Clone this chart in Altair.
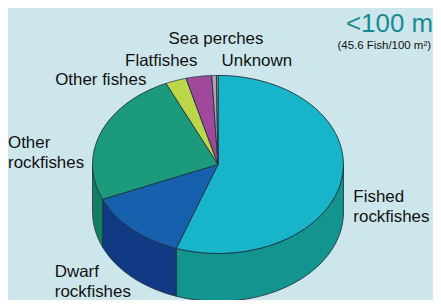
import altair as alt
import pandas as pd

# ---- data ----
categories = ["Fished rockfishes", "Dwarf rockfishes", "Other rockfishes",
              "Other fishes", "Flatfishes", "Sea perches", "Unknown"]
shares = [55.4, 13.2, 24.6, 2.7, 3.3, 0.6, 0.2]

# ---- styles ----
top_colors = ["#17b4ca", "#1760ad", "#1c9a7c", "#bcd64a", "#a2489c", "#aaa4b0", "#d8b8c8"]
side_colors = ["#13948f", "#103b84", "#147e62", "#98b03a", "#80387c", "#888290", "#b898a8"]
BG = "#cde6ec"
EDGE = "#1c3540"
LABEL_FONT = "Liberation Sans, Arial, sans-serif"

# ---- layout ----
W, H = 427, 292
CX, CY, R = 219 - 8, 164.5 - 8, 126.0   # pie centre / radius in chart pixels
TILT = 0.71
DEPTH = 0.381
N = 60

df = pd.DataFrame({"cat": categories, "share": shares, "idx": list(range(len(categories)))})

x_scale = alt.Scale(domain=[-CX / R, (W - CX) / R], nice=False, zero=False)
y_scale = alt.Scale(domain=[(CY - H) / R, CY / R], nice=False, zero=False)

base = (
    alt.Chart(df)
    .transform_window(cum="sum(share)", sort=[alt.SortField("idx")], frame=[None, 0])
    .transform_joinaggregate(total="sum(share)")
    .transform_calculate(t0="2*PI*(datum.cum - datum.share)/datum.total")
    .transform_calculate(t1="2*PI*datum.cum/datum.total")
)

top = (
    base.transform_calculate(pts=f"sequence(0, {N + 2})")
    .transform_flatten(["pts"])
    .transform_calculate(t=f"datum.t0 + (datum.t1 - datum.t0) * (datum.pts - 1) / {N}")
    .transform_calculate(px="datum.pts == 0 ? 0 : sin(datum.t)")
    .transform_calculate(py=f"datum.pts == 0 ? 0 : {TILT} * cos(datum.t)")
    .mark_line(interpolate="linear-closed", stroke=EDGE, strokeWidth=0.9, strokeJoin="round")
    .encode(
        x=alt.X("px:Q", scale=x_scale, axis=None),
        y=alt.Y("py:Q", scale=y_scale, axis=None),
        fill=alt.Fill("cat:N", scale=alt.Scale(domain=categories, range=top_colors), legend=None),
        order=alt.Order("pts:Q"),
        detail="cat:N",
    )
)

side = (
    base.transform_calculate(a="max(datum.t0, PI/2)")
    .transform_calculate(b="min(datum.t1, 3*PI/2)")
    .transform_filter("datum.a < datum.b")
    .transform_calculate(pts=f"sequence(0, {2 * N + 2})")
    .transform_flatten(["pts"])
    .transform_calculate(
        t=f"datum.pts <= {N} ? datum.a + (datum.b - datum.a) * datum.pts / {N} : "
          f"datum.b - (datum.b - datum.a) * (datum.pts - {N + 1}) / {N}"
    )
    .transform_calculate(low=f"datum.pts > {N} ? 1 : 0")
    .transform_calculate(px="sin(datum.t)")
    .transform_calculate(py=f"{TILT} * cos(datum.t) - datum.low * {DEPTH}")
    .mark_line(interpolate="linear-closed", stroke=EDGE, strokeWidth=0.9, strokeJoin="round")
    .encode(
        x=alt.X("px:Q", scale=x_scale, axis=None),
        y=alt.Y("py:Q", scale=y_scale, axis=None),
        fill=alt.Fill("cat:N", scale=alt.Scale(domain=categories, range=side_colors), legend=None),
        order=alt.Order("pts:Q"),
        detail="cat:N",
    )
)

# ---- text annotations (text, x, baseline y, align, size, colour, font) ----
label_layout = [
    ("Other fishes", 139, 77, "right", 17, "#111111", LABEL_FONT),
    ("Flatfishes", 154, 58, "center", 17, "#111111", LABEL_FONT),
    ("Sea perches", 209, 35, "center", 17, "#111111", LABEL_FONT),
    ("Unknown", 250, 58, "center", 17, "#111111", LABEL_FONT),
    ("Other\nrockfishes", 0, 140, "left", 17, "#111111", LABEL_FONT),
    ("Dwarf\nrockfishes", 47, 270, "left", 17, "#111111", LABEL_FONT),
    ("Fished\nrockfishes", 347, 194, "left", 17, "#111111", LABEL_FONT),
    ("<100 m", 427, 23, "right", 26, "#1a8a94", "Liberation Sans, Arial, sans-serif"),
    ("(45.6 Fish/100 m\u00b2)", 425, 41, "right", 11.5, "#111111", "Liberation Sans, Arial, sans-serif"),
]

texts = []
for txt, x, y, al, size, col, font in label_layout:
    texts.append(
        alt.Chart(pd.DataFrame({"t": [txt]}))
        .mark_text(align=al, baseline="alphabetic", fontSize=size, font=font, color=col,
                   lineBreak="\n", lineHeight=20)
        .encode(x=alt.value(x), y=alt.value(y), text="t:N")
    )

chart = (
    alt.layer(side, top, *texts)
    .resolve_scale(fill="independent")
    .properties(width=W, height=H, background=BG, padding=0,
                autosize=alt.AutoSizeParams(type="none"))
    .configure_view(stroke=None)
)

chart.save("out.html", embed_options={"renderer": "svg", "actions": False})
